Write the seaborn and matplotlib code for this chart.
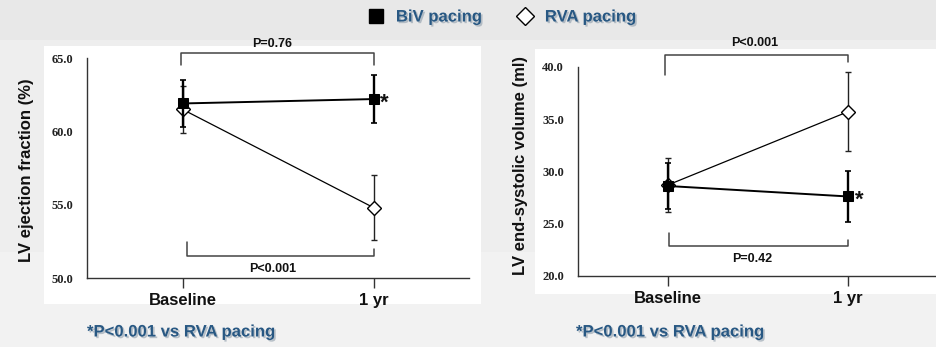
import numpy as np
import pandas as pd
import seaborn as sns
import matplotlib
matplotlib.use("Agg")
import matplotlib.pyplot as plt
from matplotlib.lines import Line2D
from matplotlib.patches import Rectangle
import matplotlib.patheffects as pe

# ---------------- data ----------------
categories = ["Baseline", "1 yr"]
series_names = ["BiV pacing", "RVA pacing"]

ef_biv = [61.9, 62.2]
ef_biv_err = [1.6, 1.65]
ef_rva = [61.5, 54.8]
ef_rva_err = [1.6, 2.2]

esv_biv = [28.6, 27.6]
esv_biv_err = [2.2, 2.4]
esv_rva = [28.7, 35.7]
esv_rva_err = [2.6, 3.8]

ef_pvals = ["P=0.76", "P<0.001"]     # top bracket (BiV), bottom bracket (RVA)
esv_pvals = ["P<0.001", "P=0.42"]    # top bracket (RVA), bottom bracket (BiV)

ef_ticks = [50.0, 55.0, 60.0, 65.0]
esv_ticks = [20.0, 25.0, 30.0, 35.0, 40.0]

footnote = "*P<0.001 vs RVA pacing"
ef_label = "LV ejection fraction (%)"
esv_label = "LV end-systolic volume (ml)"

# ---------------- style ----------------
sns.set_theme(style="white")
plt.rcParams["font.family"] = ["Liberation Sans", "DejaVu Sans"]

W, H = 936, 347
fig = plt.figure(figsize=(W / 100, H / 100), dpi=100)
fig.patch.set_facecolor("#f2f2f2")


def px_rect(x0, y0, x1, y1, color, z=-10):
    r = Rectangle((x0 / W, 1 - y1 / H), (x1 - x0) / W, (y1 - y0) / H,
                  transform=fig.transFigure, facecolor=color, edgecolor="none",
                  zorder=z)
    fig.patches.append(r)


# slide background bands
px_rect(0, 0, W, 40, "#e8e8e8")
px_rect(0, 40, W, 252, "#eeeeee")
# white panels
px_rect(44, 46, 481, 304, "white", z=-5)
px_rect(535, 49, W, 294, "white", z=-5)

ax1 = fig.add_axes([87 / W, 1 - 278 / H, 382 / W, 220 / H])
ax2 = fig.add_axes([578 / W, 1 - 276 / H, 360 / W, 209.3 / H])

blue = "#285883"
shadow = [pe.withSimplePatchShadow(offset=(1.2, -1.2), shadow_rgbFace="#8f9dab", alpha=0.6)]


def panel(ax, biv, biv_err, rva, rva_err, ylim, ticks, ylabel):
    ax.set_facecolor("none")
    df = pd.DataFrame({"pos": [0, 1, 0, 1],
                       "val": list(rva) + list(biv),
                       "grp": ["RVA"] * 2 + ["BiV"] * 2})
    x = np.arange(len(categories))
    # RVA first (below), BiV on top
    ax.errorbar(x, rva, yerr=rva_err, fmt="none", ecolor="#222222",
                elinewidth=1.0, capsize=2.5, capthick=1.0, zorder=2)
    sns.lineplot(data=df[df.grp == "RVA"], x="pos", y="val", ax=ax,
                 color="black", lw=0.9, marker="D", markersize=7,
                 markerfacecolor="white", markeredgecolor="black",
                 markeredgewidth=1.0, zorder=3, legend=False)
    ax.errorbar(x, biv, yerr=biv_err, fmt="none", ecolor="black",
                elinewidth=1.7, capsize=2.5, capthick=1.2, zorder=4)
    sns.lineplot(data=df[df.grp == "BiV"], x="pos", y="val", ax=ax,
                 color="black", lw=1.4, marker="s", markersize=7,
                 markerfacecolor="black", markeredgecolor="black",
                 zorder=5, legend=False)
    ax.set_xlim(-0.5, 1.5)
    ax.set_ylim(*ylim)
    ax.set_yticks(ticks)
    ax.set_yticklabels([f"{t:.1f}" for t in ticks],
                       fontfamily="Liberation Serif", fontweight="bold",
                       fontsize=9, color="#222222")
    ax.set_xticks(x)
    ax.set_xticklabels(categories, fontsize=12, fontweight="bold", color="#111111")
    ax.tick_params(axis="y", length=0, pad=10)
    ax.tick_params(axis="x", length=7, width=1.0, color="#333333",
                   direction="out", pad=4, bottom=True)
    for s in ["top", "right"]:
        ax.spines[s].set_visible(False)
    for s in ["left", "bottom"]:
        ax.spines[s].set_color("#333333")
        ax.spines[s].set_linewidth(1.0)
    ax.set_xlabel("")
    ax.set_ylabel(ylabel, fontsize=12, fontweight="bold", color="#111111")


panel(ax1, ef_biv, ef_biv_err, ef_rva, ef_rva_err, (50, 65), ef_ticks, ef_label)
panel(ax2, esv_biv, esv_biv_err, esv_rva, esv_rva_err, (20, 40), esv_ticks, esv_label)
ax1.yaxis.set_label_coords(-0.14, 0.49)
ax2.yaxis.set_label_coords(-0.14, 0.53)

bk = dict(color="#444444", lw=1.1, clip_on=False, zorder=6)
tk = dict(fontsize=9, fontweight="bold", ha="center", va="center", color="#111111")

# left panel brackets
ax1.plot([-0.01, -0.01, 1.0, 1.0], [64.52, 65.32, 65.32, 64.52], **bk)
ax1.text(0.47, 65.95, ef_pvals[0], **tk)
ax1.plot([0.026, 0.026, 1.0, 1.0], [52.46, 51.5, 51.5, 51.98], **bk)
ax1.text(0.47, 50.62, ef_pvals[1], **tk)
ax1.text(1.035, ef_biv[1] - 0.3, "*", fontsize=16, fontweight="bold",
         ha="left", va="center", color="#111111")

# right panel brackets
ax2.plot([-0.017, -0.017, 1.0, 1.0], [39.2, 41.12, 41.12, 40.45], **bk)
ax2.text(0.48, 42.26, esv_pvals[0], **tk)
ax2.plot([0.006, 0.006, 1.0, 1.0], [24.1, 22.87, 22.87, 23.45], **bk)
ax2.text(0.47, 21.63, esv_pvals[1], **tk)
ax2.text(1.04, esv_biv[1] - 0.4, "*", fontsize=16, fontweight="bold",
         ha="left", va="center", color="#111111")

# footnotes
for xpx in (87, 576):
    fig.text(xpx / W, 1 - 332 / H, footnote, fontsize=12, fontweight="bold",
             color=blue, ha="left", va="center", path_effects=shadow)

# legend
handles = [
    Line2D([], [], ls="none", marker="s", markersize=10, markerfacecolor="black",
           markeredgecolor="black"),
    Line2D([], [], ls="none", marker="D", markersize=9.5, markerfacecolor="white",
           markeredgecolor="black", markeredgewidth=1.0),
]
leg = fig.legend(handles, series_names, loc="center", bbox_to_anchor=(0.536, 0.951),
                 ncol=2, frameon=False, handlelength=1.0, handletextpad=0.7,
                 columnspacing=2.1,
                 prop={"size": 12, "weight": "bold", "family": "Liberation Sans"})
for t in leg.get_texts():
    t.set_color(blue)
    t.set_path_effects(shadow)

fig.savefig("out.png", dpi=100, facecolor=fig.get_facecolor())
